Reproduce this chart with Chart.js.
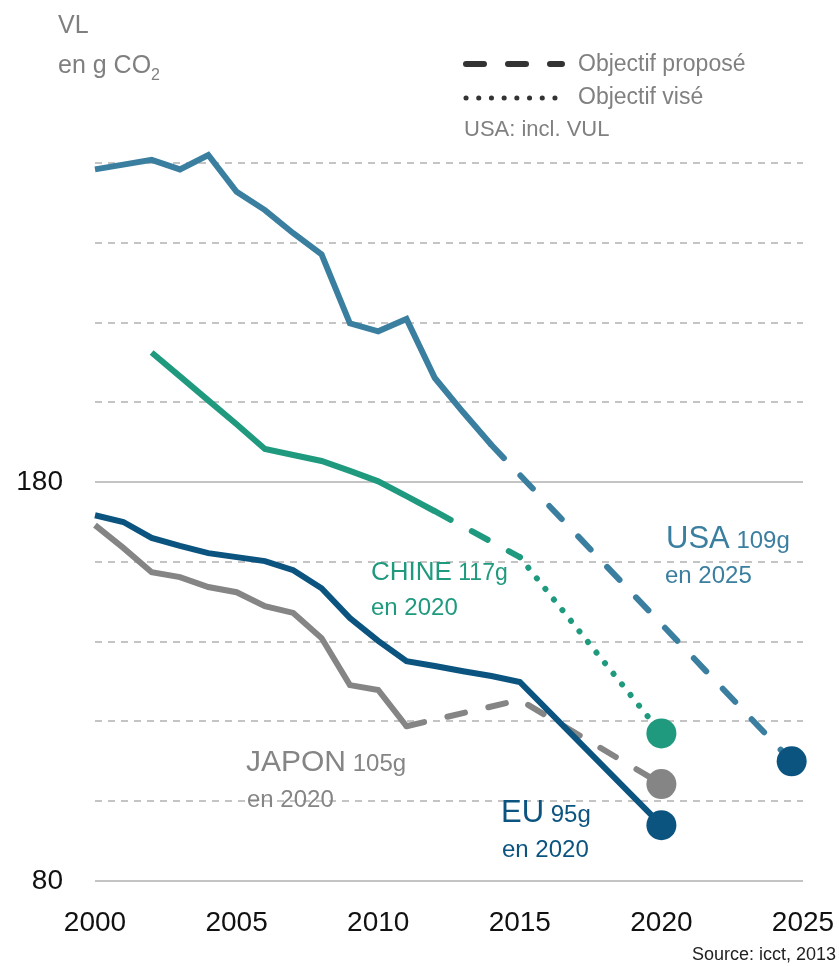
<!DOCTYPE html>
<html>
<head>
<meta charset="utf-8">
<script src="https://cdn.jsdelivr.net/npm/chart.js@4/dist/chart.umd.min.js"></script>
<style>
  html, body { margin: 0; padding: 0; background: #fff; }
  canvas { display: block; }
</style>
</head>
<body>
<canvas id="co2Chart" width="839" height="966"></canvas>
<script>
// g CO2 / km, passenger cars (VL)
const usaYears = [2000, 2001, 2002, 2003, 2004, 2005, 2006, 2007, 2008, 2009, 2010, 2011, 2012, 2013, 2014];
const usaValues = [258.4, 259.6, 260.8, 258.4, 262.0, 252.8, 248.2, 242.4, 237.1, 219.8, 217.8, 220.9, 206.1, 197.5, 189.3];
const usaProposedYears = [2014, 2024.6];
const usaProposedValues = [189.3, 110];

const chinaYears = [2002, 2003, 2004, 2005, 2006, 2007, 2008, 2009, 2010, 2011, 2012];
const chinaValues = [212.5, 206.5, 200.5, 194.5, 188.3, 186.8, 185.3, 182.8, 180.2, 176.5, 172.7];
const chinaProposedYears = [2012, 2015];
const chinaProposedValues = [172.7, 161.2];
const chinaTargetYears = [2015, 2020];
const chinaTargetValues = [161.2, 117];

const euYears = [2000, 2001, 2002, 2003, 2004, 2005, 2006, 2007, 2008, 2009, 2010, 2011, 2012, 2013, 2014, 2015, 2020];
const euValues = [171.7, 170.0, 166.0, 164.0, 162.2, 161.2, 160.2, 157.9, 153.4, 145.9, 140.2, 135.1, 133.9, 132.6, 131.4, 129.9, 94];

const japanYears = [2000, 2001, 2002, 2003, 2004, 2005, 2006, 2007, 2008, 2009, 2010, 2011];
const japanValues = [169.2, 163.5, 157.4, 156.2, 153.7, 152.4, 148.9, 147.2, 140.9, 129.1, 127.9, 118.8];
const japanProposedYears = [2011, 2015, 2020];
const japanProposedValues = [118.8, 125.4, 104.3];

const xTicks = [2000, 2005, 2010, 2015, 2020, 2025];
const yLabelTicks = [80, 180];

const USA = '#3b7fa0';
const CHINA = '#1f9a7e';
const EU = '#0b5480';
const JAPAN = '#858585';
const FONT = '"Liberation Sans", Arial, sans-serif';

const pts = (xs, ys) => xs.map((x, i) => ({ x: x, y: ys[i] }));
const last = a => a[a.length - 1];

function line(data, color, dash, order, width) {
  return {
    data: data,
    borderColor: color,
    borderWidth: width || 6,
    borderDash: dash || [],
    borderCapStyle: dash ? 'round' : 'butt',
    pointRadius: 0,
    tension: 0,
    clip: false,
    order: order
  };
}

const proposedDash = [18, 24];
const targetDots = [0.1, 13.5];

const markers = {
  data: [
    { x: last(chinaTargetYears), y: last(chinaTargetValues) },
    { x: last(japanProposedYears), y: last(japanProposedValues) },
    { x: last(euYears), y: last(euValues) },
    { x: last(usaProposedYears), y: last(usaProposedValues) }
  ],
  showLine: false,
  pointRadius: 15,
  pointBorderWidth: 0,
  pointBackgroundColor: [CHINA, JAPAN, EU, EU],
  clip: false,
  order: 0
};

function runs(c, x, y, parts) {
  for (const p of parts) {
    c.font = p[1] + 'px ' + FONT;
    c.fillStyle = p[2];
    c.fillText(p[0], x, y + (p[3] || 0));
    x += c.measureText(p[0]).width;
  }
}

const notes = {
  id: 'notes',
  afterDraw(chart) {
    const c = chart.ctx;
    c.save();
    c.textBaseline = 'alphabetic';
    c.textAlign = 'left';

    // axis title
    runs(c, 58, 33, [['VL', 25, '#7f7f7f']]);
    runs(c, 58, 73, [['en g CO', 25, '#7f7f7f'], ['2', 16, '#7f7f7f', 7]]);

    // legend
    c.strokeStyle = '#333';
    c.lineCap = 'round';
    c.lineWidth = 6;
    c.setLineDash([18, 24]);
    c.beginPath(); c.moveTo(466, 64); c.lineTo(562, 64); c.stroke();
    c.lineWidth = 5;
    c.setLineDash([0.1, 12.6]);
    c.beginPath(); c.moveTo(466, 98); c.lineTo(555, 98); c.stroke();
    c.setLineDash([]);
    runs(c, 578, 71, [['Objectif proposé', 23, '#808080']]);
    runs(c, 578, 104, [['Objectif visé', 23, '#808080']]);
    runs(c, 464, 136, [['USA: incl. VUL', 22, '#808080']]);

    // series labels
    runs(c, 666, 548, [['USA', 31, USA], [' 109g', 24, USA]]);
    runs(c, 665, 583, [['en 2025', 24, USA]]);
    runs(c, 371, 580, [['CHINE', 26, CHINA], [' 117g', 23, CHINA]]);
    runs(c, 371, 615, [['en 2020', 24, CHINA]]);
    runs(c, 246, 771, [['JAPON', 30, JAPAN], [' 105g', 24, JAPAN]]);
    runs(c, 247, 807, [['en 2020', 24, JAPAN]]);
    runs(c, 501, 822, [['EU', 31, EU], [' 95g', 24, EU]]);
    runs(c, 502, 857, [['en 2020', 24, EU]]);

    // source
    c.textAlign = 'right';
    runs(c, 836, 960, [['Source: icct, 2013', 18, '#222']]);
    c.restore();
  }
};

new Chart(document.getElementById('co2Chart').getContext('2d'), {
  type: 'line',
  data: {
    datasets: [
      markers,
      line(pts(euYears, euValues), EU, null, 1),
      line(pts(japanYears, japanValues), JAPAN, null, 2),
      line(pts(japanProposedYears, japanProposedValues), JAPAN, proposedDash, 2),
      line(pts(chinaYears, chinaValues), CHINA, null, 3),
      line(pts(chinaProposedYears, chinaProposedValues), CHINA, proposedDash, 3),
      line(pts(chinaTargetYears, chinaTargetValues), CHINA, targetDots, 3, 6),
      line(pts(usaYears, usaValues), USA, null, 4),
      line(pts(usaProposedYears, usaProposedValues), USA, proposedDash, 4)
    ]
  },
  options: {
    responsive: false,
    animation: false,
    devicePixelRatio: 1,
    layout: { padding: { top: 163, right: 36, left: 0, bottom: 0 } },
    plugins: { legend: { display: false }, tooltip: { enabled: false } },
    scales: {
      x: {
        type: 'linear',
        min: 2000,
        max: 2025,
        afterBuildTicks: s => { s.ticks = xTicks.map(v => ({ value: v })); },
        afterFit: s => { s.height = 85; s.paddingRight = 0; s.paddingLeft = 0; },
        grid: { display: false, drawTicks: false },
        border: { display: false },
        ticks: {
          padding: 25,
          color: '#111',
          font: { family: FONT, size: 28, lineHeight: 1.2 },
          maxRotation: 0,
          callback: v => String(v)
        }
      },
      y: {
        min: 80,
        max: 260,
        afterFit: s => { s.width = 95; s.paddingTop = 0; s.paddingBottom = 0; },
        grid: { color: '#c4c4c4', lineWidth: 2, drawTicks: false },
        border: {
          display: false,
          dash: ctx => (ctx.tick && yLabelTicks.includes(ctx.tick.value)) ? [] : [7, 6]
        },
        ticks: {
          stepSize: 20,
          padding: 32,
          color: '#111',
          font: { family: FONT, size: 28 },
          callback: v => yLabelTicks.includes(v) ? String(v) : ''
        }
      }
    }
  },
  plugins: [notes]
});
</script>
</body>
</html>
